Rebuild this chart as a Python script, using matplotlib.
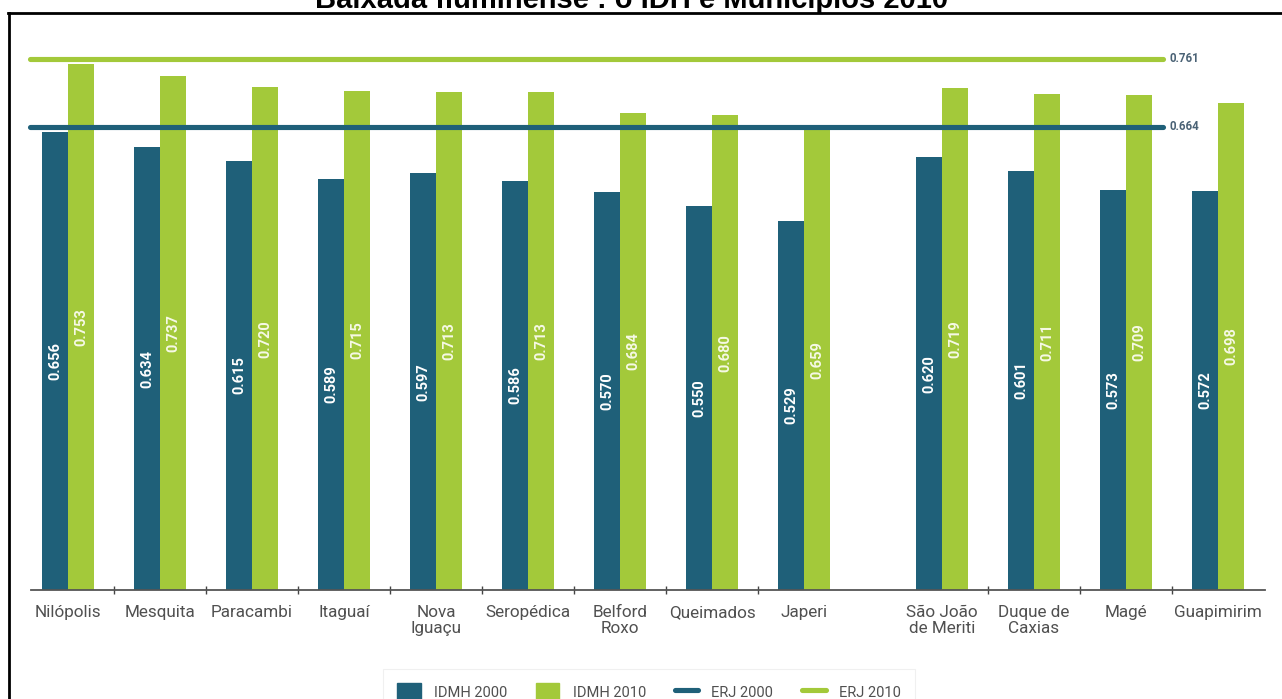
import matplotlib
matplotlib.use("Agg")
import matplotlib.pyplot as plt
import numpy as np
from matplotlib.lines import Line2D
from matplotlib.patches import Patch

# --- data -------------------------------------------------------------
municipios = ["Nilópolis", "Mesquita", "Paracambi", "Itaguaí", "Nova\nIguaçu",
              "Seropédica", "Belford\nRoxo", "Queimados", "Japeri",
              "São João\nde Meriti", "Duque de\nCaxias", "Magé", "Guapimirim"]
idmh_2000 = [0.656, 0.634, 0.615, 0.589, 0.597, 0.586, 0.570, 0.550, 0.529,
             0.620, 0.601, 0.573, 0.572]
idmh_2010 = [0.753, 0.737, 0.720, 0.715, 0.713, 0.713, 0.684, 0.680, 0.659,
             0.719, 0.711, 0.709, 0.698]
erj_2000 = 0.664
erj_2010 = 0.761
titulo = "Baixada fluminense : o IDH e Municípios 2010"
legenda = ["IDMH 2000", "IDMH 2010", "ERJ 2000", "ERJ 2010"]

# --- style ------------------------------------------------------------
DARK = "#1f6079"
GREEN = "#a3c93a"
TXT = "#505050"
NUM = "#4a6275"
FONT = "Roboto"

W, H = 1282, 699
fig = plt.figure(figsize=(W / 100, H / 100), dpi=100)
fig.patch.set_facecolor("white")


def fx(px):
    return px / W


def fy(py):
    return 1 - py / H


ax = fig.add_axes([fx(31), fy(590), fx(1265 - 31), (590 - 40) / H])

n = len(municipios)
pos = np.arange(n, dtype=float)
pos[9:] += 0.5          # extra gap before São João de Meriti
bw = 0.283

ax.bar(pos - bw / 2, idmh_2000, bw, color=DARK, zorder=2)
ax.bar(pos + bw / 2, idmh_2010, bw, color=GREEN, zorder=2)

for x, v in zip(pos - bw / 2, idmh_2000):
    ax.text(x, v / 2, f"{v:.3f}", rotation=90, ha="center", va="center",
            color="white", fontsize=10.5, fontweight="bold", family=FONT, zorder=3)
for x, v in zip(pos + bw / 2, idmh_2010):
    ax.text(x, v / 2, f"{v:.3f}", rotation=90, ha="center", va="center",
            color="#f6f9e6", fontsize=10.5, fontweight="bold", family=FONT, zorder=3)

# reference lines for the state of Rio de Janeiro
x0 = pos[0] - 0.41
x1 = pos[-2] + 0.40
for val, col in ((erj_2010, GREEN), (erj_2000, DARK)):
    ax.plot([x0, x1], [val, val], color=col, lw=3.7, solid_capstyle="round",
            clip_on=False, zorder=4)
    ax.annotate(f"{val:.3f}", xy=(x1, val), xytext=(7, 0),
                textcoords="offset pixels", ha="left", va="center",
                color=NUM, fontsize=8.3, fontweight="bold", family=FONT)

ax.set_xlim(pos[0] - 0.402, pos[-1] + 0.51)
ax.set_ylim(0, 0.788)

for side in ("top", "right", "left"):
    ax.spines[side].set_visible(False)
ax.spines["bottom"].set_color("#555555")
ax.spines["bottom"].set_linewidth(1.3)
ax.set_yticks([])

ax.set_xticks(pos)
ax.set_xticklabels(municipios, fontsize=12.3, family=FONT, color=TXT,
                   linespacing=1.1)
ax.tick_params(axis="x", which="major", length=0, pad=11)

gaps = np.diff(pos)
minor = [(a + b) / 2 for a, b, g in zip(pos[:-1], pos[1:], gaps) if g == 1]
ax.set_xticks(minor, minor=True)
ax.tick_params(axis="x", which="minor", direction="inout", length=6,
               width=1, color="#444444")

handles = [Patch(color=DARK), Patch(color=GREEN),
           Line2D([], [], color=DARK, lw=3.7, solid_capstyle="round"),
           Line2D([], [], color=GREEN, lw=3.7, solid_capstyle="round")]
leg = fig.legend(handles, legenda, loc="center",
                 bbox_to_anchor=(fx(649), fy(692)), ncol=4, frameon=True,
                 fancybox=False, edgecolor="#ededed", borderpad=1.0,
                 handlelength=1.6, handleheight=1.5, handletextpad=0.9,
                 columnspacing=2.0, prop={"family": FONT, "size": 10.5})
leg.get_frame().set_linewidth(0.8)
for t in leg.get_texts():
    t.set_color(TXT)

# page frame and heading (runs off the top edge)
fig.add_artist(Line2D([fx(8), 1], [fy(12.5), fy(12.5)], color="black", lw=2,
                      transform=fig.transFigure))
fig.add_artist(Line2D([fx(8.5), fx(8.5)], [fy(12.5), 0], color="black", lw=2,
                      transform=fig.transFigure))
fig.text(fx(632), fy(8), titulo, ha="center", va="baseline", fontsize=21,
         fontweight="bold", family="Liberation Sans", color="black")

fig.savefig("out.png", dpi=100)
